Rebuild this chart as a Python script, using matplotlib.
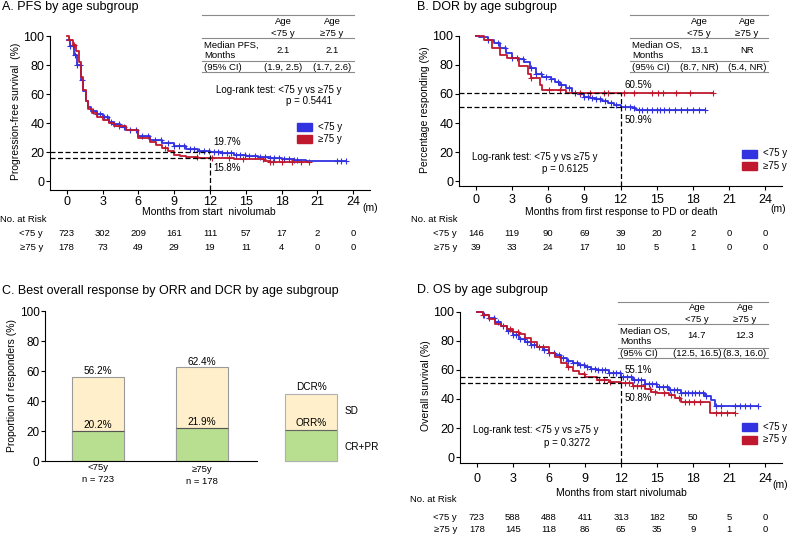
import numpy as np
import matplotlib
matplotlib.use("Agg")
import matplotlib.pyplot as plt
from matplotlib.patches import Rectangle
from matplotlib.lines import Line2D
from matplotlib.transforms import blended_transform_factory

plt.rcParams['font.family'] = ['Liberation Sans', 'DejaVu Sans']

BLUE = '#3232e0'
RED = '#c0182e'

# ---- data ----
months = [0, 3, 6, 9, 12, 15, 18, 21, 24]

# A. PFS
pfs_young_t = [0, 0.3, 0.6, 0.9, 1.2, 1.4, 1.6, 1.8, 2.0, 2.5, 3.0, 3.5, 4.0, 4.5, 5.0, 6.0, 7.0,
               8.0, 9.0, 10.0, 11.0, 12.0, 13.0, 14.0, 15.0, 16.0, 17.0, 18.0, 19.0, 20.0, 23.4]
pfs_young_v = [97, 93, 87, 80, 70, 62, 55, 51, 48, 46, 44, 41, 39, 37, 35, 31, 28,
               26, 24, 22, 21, 19.7, 19, 18, 17, 16.3, 15.8, 15.3, 14.6, 14, 14]
pfs_old_t = [0, 0.2, 0.5, 0.8, 1.0, 1.2, 1.4, 1.6, 1.8, 2.1, 2.5, 3.0, 3.5, 4.0, 5.0, 6.0, 7.0,
             7.5, 8.0, 8.5, 9.0, 9.5, 10.0, 11.0, 12.0, 14.0, 16.5, 17.0, 20.3]
pfs_old_v = [100, 97, 94, 90, 82, 72, 63, 55, 50, 47, 44, 42, 40, 38, 35, 30, 27,
             25, 23, 21, 18, 17, 16.5, 16, 15.8, 15.5, 14, 13, 13]
pfs_young_cens = [0.3, 0.5, 0.7, 0.9, 1.1, 1.3, 2.2, 2.5, 2.8, 3.1, 3.4, 3.7, 4.0, 4.4, 4.8, 5.3,
                  5.8, 6.3, 6.8, 7.4, 7.9, 8.5, 9.0, 9.4, 9.8, 10.3, 10.7, 11.1, 11.5, 11.9, 12.3,
                  12.7, 13.0, 13.4, 13.8, 14.2, 14.5, 14.9, 15.3, 15.8, 16.2, 16.6, 17.0, 17.4,
                  17.8, 18.2, 18.6, 19.0, 19.3, 22.6, 23.0, 23.4]
pfs_old_cens = [0.2, 0.6, 4.4, 8.2, 10.9, 12.2, 13.6, 14.8, 16.4, 17.0, 17.3, 18.0, 18.9, 19.6, 20.3]
pfs_risk_young = [723, 302, 209, 161, 111, 57, 17, 2, 0]
pfs_risk_old = [178, 73, 49, 29, 19, 11, 4, 0, 0]

# B. DOR
dor_young_t = [0, 0.3, 1.0, 1.5, 2.0, 2.5, 3.0, 3.5, 4.0, 4.5, 5.0, 5.5, 6.2, 6.6, 7.0, 7.5,
               8.0, 8.5, 9.0, 9.5, 10.0, 10.5, 11.0, 11.5, 12.0, 13.0, 13.3, 19.0]
dor_young_v = [100, 99, 97, 95, 92, 88, 85, 84, 82, 78, 74, 71.5, 70, 68, 66, 64,
               61, 60, 58, 57.5, 56.5, 55.5, 54, 52.5, 51, 50.5, 49, 49]
dor_old_t = [0, 0.7, 1.3, 2.0, 2.6, 3.6, 4.3, 4.6, 5.3, 5.5, 7.5, 19.7]
dor_old_v = [100, 97, 92, 87, 84.6, 79, 74, 71, 66, 63, 60.5, 60.5]
dor_young_cens = [1.0, 1.8, 2.4, 3.0, 3.4, 3.9, 4.6, 5.0, 5.4, 5.8, 6.2, 6.8, 7.1, 7.7, 8.2, 8.6,
                  9.0, 9.3, 9.6, 10.0, 10.3, 10.7, 11.2, 11.6, 12.4, 12.8, 13.1, 13.5, 13.8, 14.2,
                  14.6, 15.0, 15.3, 15.6, 16.0, 16.5, 17.0, 17.5, 18.0, 18.5, 19.0]
dor_old_cens = [4.6, 6.1, 7.0, 8.6, 9.5, 10.6, 11.0, 12.3, 13.1, 14.6, 15.1, 15.5, 16.6, 17.8, 19.7]
dor_risk_young = [146, 119, 90, 69, 39, 20, 2, 0, 0]
dor_risk_old = [39, 33, 24, 17, 10, 5, 1, 0, 0]

# D. OS
os_young_t = [0, 0.5, 1.0, 1.5, 2.0, 2.5, 3.0, 3.5, 4.0, 4.5, 5.0, 5.5, 6.0, 6.5, 7.0, 7.5, 8.0,
              8.5, 9.0, 9.5, 10.0, 11.0, 12.0, 13.0, 14.0, 15.0, 16.0, 17.0, 18.0, 19.0, 19.5,
              19.8, 23.4]
os_young_v = [100, 98, 96, 93, 90, 87, 84, 81, 79, 77.5, 76, 74, 72, 70, 68, 66.5, 65,
              63.5, 62, 61, 60, 58, 55.1, 53, 50, 48, 46, 44, 44, 42, 39, 35.4, 35.4]
os_old_t = [0, 0.5, 1.0, 1.5, 2.0, 2.5, 3.0, 3.5, 4.0, 4.5, 5.0, 6.0, 6.5, 7.0, 7.5, 8.0, 8.5,
            9.0, 10.0, 11.0, 12.0, 13.0, 14.0, 14.5, 15.0, 16.0, 16.5, 17.0, 19.3, 19.4, 21.5]
os_old_v = [100, 98, 95, 92, 90, 88, 86, 85, 82, 79, 76, 72, 69, 65, 62, 59, 57,
            55, 53, 52, 50.8, 49, 47, 45, 44, 43, 41, 38, 38, 30.5, 30.5]
os_young_cens = [0.6, 1.0, 1.4, 1.8, 2.2, 2.6, 3.0, 3.3, 3.6, 3.9, 4.2, 4.5, 4.8, 5.2, 5.6, 6.0,
                 6.4, 6.8, 7.2, 7.6, 8.0, 8.3, 8.6, 8.9, 9.2, 9.5, 9.8, 10.1, 10.4, 10.7, 11.0,
                 11.3, 11.6, 11.9, 12.2, 12.5, 12.8, 13.1, 13.4, 13.7, 14.0, 14.3, 14.6, 14.9,
                 15.2, 15.5, 15.8, 16.1, 16.4, 16.7, 17.0, 17.3, 17.6, 17.9, 18.2, 18.5, 18.8,
                 19.1, 19.9, 20.3, 21.5, 21.9, 22.3, 22.7, 23.4]
os_old_cens = [0.5, 2.8, 3.4, 5.5, 7.6, 8.9, 10.2, 10.6, 11.1, 12.3, 12.7, 13.0, 13.3, 13.7,
               14.4, 14.8, 15.6, 16.2, 16.8, 17.3, 17.7, 18.1, 18.6, 19.9, 20.3, 20.8, 21.5]
os_risk_young = [723, 588, 488, 411, 313, 182, 50, 5, 0]
os_risk_old = [178, 145, 118, 86, 65, 35, 9, 1, 0]

# C. best overall response
resp_groups = ['<75y\nn = 723', '≥75y\nn = 178']
orr = [20.2, 21.9]
dcr = [56.2, 62.4]
key_levels = [21, 45]  # legend key bar: ORR part, DCR total

W, H = 788, 535
fig = plt.figure(figsize=(W / 100, H / 100), dpi=100)


def add_ax(left, top, right, bottom):
    return fig.add_axes([left / W, 1 - bottom / H, (right - left) / W, (bottom - top) / H])


def txt(px, py, s, size=6.8, ha='left', **kw):
    fig.text(px / W, 1 - py / H, s, fontsize=size, ha=ha, va='center', **kw)


def hline(x0, x1, py, color='#8a8a8a', lw=0.8):
    fig.add_artist(Line2D([x0 / W, x1 / W], [1 - py / H, 1 - py / H], color=color, lw=lw))


def patch(x0, y0, x1, y1, color):
    fig.add_artist(Rectangle((x0 / W, 1 - y1 / H), (x1 - x0) / W, (y1 - y0) / H,
                             color=color, transform=fig.transFigure))


def km(ax, t, v, cens, color):
    t = np.asarray(t)
    v = np.asarray(v)
    ax.step(t, v, where='post', color=color, lw=1.3)
    c = np.asarray(cens)
    cy = v[np.searchsorted(t, c, side='right') - 1]
    ax.plot(c, cy, '+', color=color, ms=4.5, mew=0.8)


def style_km(ax, ylo, pad):
    ax.set_xlim(-1.4, 25.4)
    ax.set_ylim(ylo, 102)
    ax.spines['top'].set_visible(False)
    ax.spines['right'].set_visible(False)
    ax.spines['left'].set_bounds(ylo, 100)
    ax.set_xticks(months)
    ax.set_yticks([0, 20, 40, 60, 80, 100])
    ax.tick_params(labelsize=9, length=3, width=0.8, pad=1)
    ax.tick_params(axis='x', pad=pad)
    for s in ax.spines.values():
        s.set_linewidth(0.8)


def guides(ax, ylo, v1, v2):
    kw = dict(color='black', lw=0.9, ls=(0, (4, 2)))
    ax.plot([-1.4, 12], [v1, v1], **kw)
    ax.plot([-1.4, 12], [v2, v2], **kw)
    ax.plot([12, 12], [ylo, max(v1, v2)], **kw)


def risk(ax, py0, py1, young, old):
    tr = blended_transform_factory(ax.transData, fig.transFigure)
    for m, a, b in zip(months, young, old):
        ax.text(m, 1 - py0 / H, str(a), transform=tr, fontsize=6.8, ha='center', va='center')
        ax.text(m, 1 - py1 / H, str(b), transform=tr, fontsize=6.8, ha='center', va='center')


def table(x0, x1, c1, c2, ys, label, vals, cis):
    top, l1, l2, l3, a1, a2, m1, m2, ci = ys
    for y in (top, l1, l2, l3):
        hline(x0, x1, y)
    for c, g in ((c1, '<75 y'), (c2, '≥75 y')):
        txt(c, a1, 'Age', ha='center')
        txt(c, a2, g, ha='center')
    txt(x0 + 2, m1, label)
    txt(x0 + 2, m2, 'Months')
    txt(c1, (m1 + m2) / 2, vals[0], ha='center')
    txt(c2, (m1 + m2) / 2, vals[1], ha='center')
    txt(x0 + 2, ci, '(95% CI)')
    txt(c1, ci, cis[0], ha='center')
    txt(c2, ci, cis[1], ha='center')


def legend(x, y1, y2):
    patch(x, y1 - 4, x + 15, y1 + 4, BLUE)
    patch(x, y2 - 4, x + 15, y2 + 4, RED)
    txt(x + 21, y1, '<75 y', size=7)
    txt(x + 21, y2, '≥75 y', size=7)


# ---- A. PFS ----
axA = add_ax(50, 33.1, 370, 190)
style_km(axA, -6.2, 1.5)
km(axA, pfs_young_t, pfs_young_v, pfs_young_cens, BLUE)
km(axA, pfs_old_t, pfs_old_v, pfs_old_cens, RED)
guides(axA, -6.2, 19.7, 15.8)
axA.text(12.3, 27, '19.7%', fontsize=7, va='center')
axA.text(12.3, 9, '15.8%', fontsize=7, va='center')
axA.set_ylabel('Progression-free survival  (%)', fontsize=7.5, labelpad=2)
txt(2, 7, 'A. PFS by age subgroup', size=9)
table(202, 354, 283, 332, (15, 38.3, 61, 72.3, 21.7, 33.3, 45, 56, 67),
      'Median PFS,', ('2.1', '2.1'), ('(1.9, 2.5)', '(1.7, 2.6)'))
txt(278.5, 90, 'Log-rank test: <75 y vs ≥75 y', size=7, ha='center')
txt(309, 100.5, 'p = 0.5441', size=7, ha='center')
legend(297, 126.5, 139)
txt(209, 212, 'Months from start  nivolumab', size=7.5, ha='center')
txt(370, 208, '(m)', size=7.5, ha='center')
txt(0, 220, 'No. at Risk', size=6.8)
txt(43, 233, '<75 y', ha='right')
txt(43, 247, '≥75 y', ha='right')
risk(axA, 233, 247, pfs_risk_young, pfs_risk_old)

# ---- B. DOR ----
axB = add_ax(459, 33, 782, 186)
style_km(axB, -3.4, 3)
km(axB, dor_young_t, dor_young_v, dor_young_cens, BLUE)
km(axB, dor_old_t, dor_old_v, dor_old_cens, RED)
guides(axB, -3.4, 60.5, 50.9)
axB.text(12.3, 66, '60.5%', fontsize=7, va='center')
axB.text(12.3, 42, '50.9%', fontsize=7, va='center')
axB.set_ylabel('Percentage responding (%)', fontsize=7.5, labelpad=2)
txt(417, 7, 'B. DOR by age subgroup', size=9)
table(630, 768, 699, 747, (15, 38.3, 61, 72.3, 21.7, 33.3, 45, 56, 67),
      'Median OS,', ('13.1', 'NR'), ('(8.7, NR)', '(5.4, NR)'))
txt(535, 157, 'Log-rank test: <75 y vs ≥75 y', size=7, ha='center')
txt(565, 169.5, 'p = 0.6125', size=7, ha='center')
legend(742, 153.5, 166)
txt(621, 212, 'Months from first response to PD or death', size=7.5, ha='center')
txt(778, 209, '(m)', size=7.5, ha='center')
txt(411, 220, 'No. at Risk', size=6.8)
txt(457, 233, '<75 y', ha='right')
txt(457, 247, '≥75 y', ha='right')
risk(axB, 233, 247, dor_risk_young, dor_risk_old)

# ---- C. best overall response ----
axC = add_ax(45, 311, 337, 461)
x = np.arange(len(resp_groups))
axC.bar(x, dcr, width=0.5, color='#fff0cb', edgecolor='#9a9a9a', lw=0.8)
axC.bar(x, orr, width=0.5, color='#b8df8f', edgecolor='#9a9a9a', lw=0.8)
axC.hlines(orr, x - 0.25, x + 0.25, color='#555555', lw=0.8)
for xi, a, b in zip(x, orr, dcr):
    axC.text(xi, b + 0.5, f'{b}%', ha='center', va='bottom', fontsize=7.2)
    axC.text(xi, a + 0.5, f'{a}%', ha='center', va='bottom', fontsize=7.2)
kx = 2.05
axC.bar([kx], [key_levels[1]], width=0.5, color='#fff0cb', edgecolor='#b0b0b0', lw=0.8, clip_on=False)
axC.bar([kx], [key_levels[0]], width=0.5, color='#b8df8f', edgecolor='#b0b0b0', lw=0.8, clip_on=False)
axC.hlines([key_levels[0]], kx - 0.25, kx + 0.25, color='#666666', lw=0.8)
axC.text(kx, key_levels[1] + 0.8, 'DCR%', ha='center', va='bottom', fontsize=7.2)
axC.text(kx, key_levels[0] + 0.8, 'ORR%', ha='center', va='bottom', fontsize=7.2)
axC.text(kx + 0.32, 33, 'SD', va='center', fontsize=7.2)
axC.text(kx + 0.32, 9.5, 'CR+PR', va='center', fontsize=7.2)
axC.set_xlim(-0.51, 2.3)
axC.set_ylim(0, 100)
axC.spines['top'].set_visible(False)
axC.spines['right'].set_visible(False)
axC.spines['bottom'].set_bounds(-0.51, 1.53)
axC.set_xticks([])
axC.set_yticks([0, 20, 40, 60, 80, 100])
axC.tick_params(labelsize=8.5, length=3, width=0.8, pad=1)
for s in axC.spines.values():
    s.set_linewidth(0.8)
axC.set_ylabel('Proportion of responders (%)', fontsize=7.5, labelpad=2)
tr = blended_transform_factory(axC.transData, fig.transFigure)
for xi, lab, dy in zip(x, resp_groups, [0, 2]):
    top_lab, n_lab = lab.split('\n')
    axC.text(xi, 1 - (468 + dy) / H, top_lab, transform=tr, ha='center', va='center', fontsize=6.8)
    axC.text(xi, 1 - (479 + dy) / H, n_lab, transform=tr, ha='center', va='center', fontsize=6.8)
txt(2, 291, 'C. Best overall response by ORR and DCR by age subgroup', size=9)

# ---- D. OS ----
axD = add_ax(460, 309, 782, 463)
style_km(axD, -4.1, 4.5)
km(axD, os_young_t, os_young_v, os_young_cens, BLUE)
km(axD, os_old_t, os_old_v, os_old_cens, RED)
guides(axD, -4.1, 55.1, 50.8)
axD.text(12.3, 60, '55.1%', fontsize=7, va='center')
axD.text(12.3, 40.7, '50.8%', fontsize=7, va='center')
axD.set_ylabel('Overall survival (%)', fontsize=7.5, labelpad=2)
txt(417, 290, 'D. OS by age subgroup', size=9)
table(618, 768, 697, 745, (301.7, 324.3, 347.7, 358.3, 308, 319, 331, 341, 353),
      'Median OS,', ('14.7', '12.3'), ('(12.5, 16.5)', '(8.3, 16.0)'))
txt(536, 430, 'Log-rank test: <75 y vs ≥75 y', size=7, ha='center')
txt(567, 442.5, 'p = 0.3272', size=7, ha='center')
legend(742, 427, 439.5)
txt(621, 493, 'Months from start nivolumab', size=7.5, ha='center')
txt(780, 485, '(m)', size=7.5, ha='center')
txt(410, 500, 'No. at Risk', size=6.8)
txt(457, 517, '<75 y', ha='right')
txt(457, 529, '≥75 y', ha='right')
risk(axD, 517, 529, os_risk_young, os_risk_old)

fig.savefig('out.png', dpi=100)
